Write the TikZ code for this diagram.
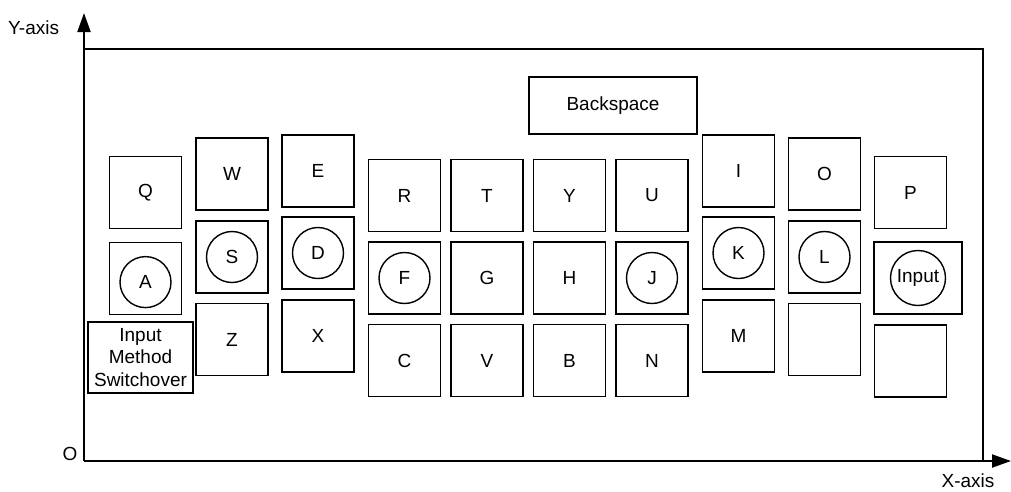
\documentclass[tikz,border=0pt]{standalone}
\usepackage{fontspec}
\setmainfont{Liberation Sans}
\usepackage{tikz}
\usetikzlibrary{arrows.meta,positioning}
\tikzset{
  kb-key/.style={draw=black, fill=white, line width=1.3pt, minimum width=18mm, minimum height=18mm,
    inner sep=0pt, align=center},
  kb-finger/.style={draw=black, circle, line width=1pt, minimum size=12.75mm, inner sep=0pt},
  kb-frame/.style={draw=black, line width=1.4pt}
}

\begin{document}
\begin{tikzpicture}[>={Triangle[length=4.75mm, width=3.25mm]}, x=0.25mm, y=-0.25mm,
    font=\fontsize{13.5}{16.3}\selectfont]
  \useasboundingbox (0,0) rectangle (1011,491);
  \coordinate (origin) at (84,461);
  \coordinate (ytip) at (84,13);
  \coordinate (xtip) at (1011,461);
  \coordinate (corner) at (983,49);
  \draw[kb-frame] (origin|-corner) -| (corner|-origin);
  \draw[kb-frame, ->] (origin) -- (ytip);
  \draw[kb-frame, ->] (origin) -- (xtip);
  \node[anchor=east] (ylabel) at (64,28) {Y-axis};
  \node (olabel) at (70,454) {O};
  \node (xlabel) at (968,481) {X-axis};
  \node[kb-key, minimum width=42mm, minimum height=14.25mm] (kback) at (613,105.5) {Backspace};
  \foreach \name/\x/\y/\title in {kq/145.5/192.5/Q, kw/232/174/W, ke/318/171/E, kr/404.5/195.5/R, kt/487/195.5/T, ky/569.5/195.5/Y, ku/652/195.5/U, ki/738.5/171/I, ko/824.5/174/O, kp/910.5/192.5/P} {
    \node[kb-key] (\name) at (\x,\y) {\title};
  }
  \foreach \name/\x/\y/\title in {ka/145.5/278.5/{}, ks/232/257/{}, kd/318/253/{}, kf/404.5/278/{}, kg/487/278/G, kh/569.5/278/H, kj/652/278/{}, kk/738.5/253/{}, kl/824.5/257/{}} {
    \node[kb-key] (\name) at (\x,\y) {\title};
  }
  \foreach \name/\title in {ks/S, kd/D, kf/F, kj/J, kk/K, kl/L} {
    \node[kb-finger] (\name-dot) at (\name) {\title};
  }
  \node[kb-finger] (ka-dot) at ([yshift=-0.9mm]ka.center) {A};
  \node[kb-key, minimum width=22mm] (kinput) at (918,278) {};
  \node[kb-finger, minimum size=13.75mm] (kinput-dot) at (kinput) {Input};
  \foreach \name/\x/\y/\title in {kz/232/339.5/Z, kx/318/336/X, kc/404.5/360.5/C, kv/487/360.5/V, kb/569.5/360.5/B, kn/652/360.5/N, km/738.5/336/M, kblanka/824.5/339.5/{}, kblankb/910.5/361/{}} {
    \node[kb-key] (\name) at (\x,\y) {\title};
  }
  \node[kb-key, minimum width=26.25mm, minimum height=17.75mm] (kswitch) at (140.5,357.5) {Input\\Method\\Switchover};
\end{tikzpicture}
\end{document}
